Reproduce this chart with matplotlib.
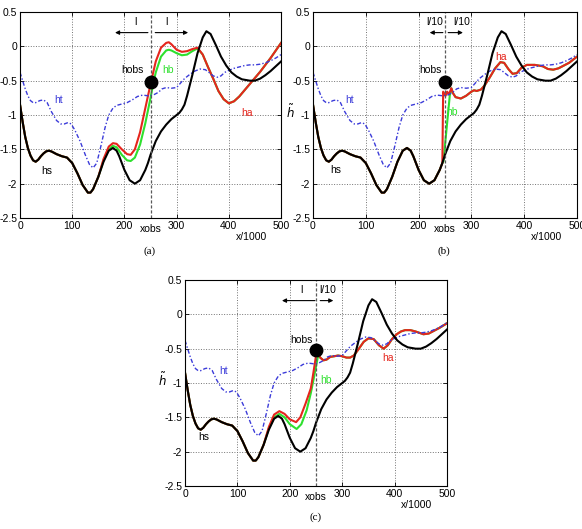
import matplotlib
matplotlib.use("Agg")
import matplotlib.pyplot as plt

plt.rcParams['font.family'] = ['Liberation Sans', 'DejaVu Sans']
plt.rcParams['axes.unicode_minus'] = False

# shared curves (x/1000, h~)
hs_x = [0, 5, 10, 15, 20, 25, 30, 35, 40, 45, 50, 55, 60, 70, 80, 90, 100, 110, 120, 130,
        135, 140, 150, 160, 170, 178, 185, 190, 200, 210, 220, 230, 240, 245, 250, 260, 270, 280, 290, 300,
        305, 310, 315, 320, 330, 340, 350, 357, 365, 375, 385, 395, 405, 415, 425, 440, 450, 460, 470, 480,
        490, 500]
hs_y = [-0.85, -1.10, -1.32, -1.48, -1.59, -1.66, -1.68, -1.65, -1.60, -1.56, -1.53, -1.52, -1.53, -1.57, -1.60, -1.62, -1.70, -1.85, -2.02, -2.13,
        -2.13, -2.08, -1.90, -1.68, -1.52, -1.48, -1.52, -1.60, -1.80, -1.95, -2.00, -1.95, -1.80, -1.70, -1.58, -1.38, -1.24, -1.14, -1.06, -1.00,
        -0.97, -0.92, -0.85, -0.72, -0.42, -0.10, 0.13, 0.22, 0.18, 0.02, -0.15, -0.28, -0.38, -0.44, -0.48, -0.50, -0.50, -0.47, -0.42, -0.36,
        -0.29, -0.22]

ht_x = [0, 5, 10, 15, 20, 25, 30, 38, 45, 52, 60, 70, 78, 85, 92, 98, 105, 115, 125, 133,
        140, 147, 155, 163, 170, 178, 185, 195, 205, 215, 225, 235, 245, 255, 265, 272, 280, 290, 300, 308,
        315, 325, 335, 345, 355, 362, 370, 378, 385, 392, 400, 410, 420, 430, 440, 450, 460, 470, 480, 490, 500]
ht_y = [-0.38, -0.50, -0.62, -0.72, -0.79, -0.82, -0.82, -0.79, -0.78, -0.82, -0.95, -1.08, -1.13, -1.13, -1.11, -1.13, -1.22, -1.38, -1.58, -1.72,
        -1.77, -1.70, -1.45, -1.18, -1.00, -0.90, -0.86, -0.84, -0.82, -0.78, -0.73, -0.71, -0.72, -0.71, -0.67, -0.62, -0.60, -0.61, -0.60, -0.53,
        -0.47, -0.41, -0.36, -0.33, -0.34, -0.38, -0.43, -0.45, -0.43, -0.38, -0.35, -0.32, -0.30, -0.28, -0.27, -0.27, -0.26, -0.24, -0.21, -0.17, -0.12]

x_obs = 250
h_obs = -0.52

# panel (a): only the part that leaves hs is listed
ha_a_x = [160, 170, 178, 185, 195, 205, 212, 220, 230, 240, 250, 260, 270, 280, 285, 290, 300, 310, 320, 330,
          340, 350, 360, 370, 380, 390, 400, 410, 420, 430, 440, 450, 460, 470, 480, 490, 500]
ha_a_y = [-1.64, -1.46, -1.41, -1.42, -1.50, -1.57, -1.58, -1.50, -1.25, -0.90, -0.55, -0.22, -0.02, 0.05, 0.06, 0.03, -0.05, -0.08, -0.07, -0.04,
          -0.02, -0.12, -0.30, -0.47, -0.65, -0.77, -0.83, -0.80, -0.73, -0.64, -0.55, -0.46, -0.37, -0.27, -0.17, -0.06, 0.05]
hb_a_x = [160, 170, 178, 185, 195, 205, 212, 220, 230, 240, 250, 255, 260, 270, 280, 285, 290, 300, 310, 320, 330, 340]
hb_a_y = [-1.66, -1.50, -1.45, -1.47, -1.58, -1.66, -1.67, -1.62, -1.43, -1.12, -0.75, -0.55, -0.38, -0.15, -0.06, -0.05, -0.06, -0.10, -0.13, -0.12, -0.07, -0.03]

# panel (b)
ha_b_x = [246.5, 249, 251, 254, 257, 260, 262, 265, 270, 280, 290, 300, 305, 310, 318, 325, 335, 345, 355, 362,
          370, 378, 386, 395, 405, 420, 435, 445, 455, 465, 475, 485, 500]
ha_b_y = [-0.66, -0.70, -0.72, -0.66, -0.70, -0.65, -0.61, -0.68, -0.74, -0.76, -0.72, -0.66, -0.64, -0.65, -0.63, -0.57, -0.45, -0.32, -0.23, -0.24,
          -0.33, -0.40, -0.39, -0.31, -0.27, -0.27, -0.29, -0.33, -0.34, -0.32, -0.28, -0.24, -0.15]
hb_b_x = [247, 259, 262]
hb_b_y = [-1.68, -0.72, -0.61]

# panel (c)
ha_c_x = [160, 170, 180, 190, 200, 212, 220, 230, 240, 245, 250, 254, 258, 264, 270, 277, 285, 292, 300, 308,
          315, 322, 330, 341, 350, 360, 370, 379, 387, 395, 404, 412, 420, 430, 440, 455, 465, 475, 485, 500]
ha_c_y = [-1.64, -1.46, -1.41, -1.45, -1.53, -1.57, -1.50, -1.30, -1.08, -0.85, -0.60, -0.58, -0.63, -0.67, -0.66, -0.62, -0.61, -0.60, -0.61, -0.63,
          -0.63, -0.60, -0.52, -0.40, -0.35, -0.36, -0.45, -0.50, -0.45, -0.36, -0.29, -0.25, -0.23, -0.23, -0.25, -0.29, -0.28, -0.24, -0.20, -0.13]
hb_c_x = [160, 170, 180, 190, 200, 213, 222, 232, 240, 245, 250, 254]
hb_c_y = [-1.66, -1.50, -1.45, -1.50, -1.60, -1.67, -1.60, -1.40, -1.15, -0.96, -0.76, -0.60]

x_ticks = [0, 100, 200, 300, 400, 500]
y_ticks = [0.5, 0, -0.5, -1, -1.5, -2, -2.5]
y_tick_labels = ['0.5', '0', '-0.5', '-1', '-1.5', '-2', '-2.5']

RED = '#e5251d'
GREEN = '#2ee02e'
BLUE = '#3b3bd9'
FS = 7.5


def splice(base_x, base_y, own_x, own_y):
    # base curve until own points start, then own points
    xs = [x for x in base_x if x < own_x[0]]
    ys = base_y[:len(xs)]
    return xs + list(own_x), ys + list(own_y)


def tail(base_x, base_y, after):
    xs = [x for x in base_x if x > after]
    return xs, base_y[len(base_x) - len(xs):]


def draw_panel(ax, ha, hb, arrows, labels, ylabel):
    ax.plot(*hb, color=GREEN, lw=1.5)
    ax.plot(*ha, color=RED, lw=1.5)
    ax.plot(ht_x, ht_y, color=BLUE, lw=1.0, ls=(0, (3, 1.5, 1, 1.5)))
    ax.plot(hs_x, hs_y, color='k', lw=1.5)
    ax.axvline(x_obs, color='0.35', lw=0.9, ls=(0, (2.5, 1.5)))
    ax.plot([x_obs], [h_obs], 'o', color='k', ms=9, zorder=5)

    for tail_x, head_x, text, tx in arrows:
        ax.annotate('', xy=(head_x, 0.2), xytext=(tail_x, 0.2),
                    arrowprops=dict(arrowstyle='-|>', lw=0.8, color='k', mutation_scale=6,
                                    shrinkA=0, shrinkB=0))
        ax.text(tx, 0.36, text, fontsize=FS, ha='center', va='center')

    for text, tx, ty, col in labels:
        ax.text(tx, ty, text, fontsize=FS, color=col, ha='center', va='center')

    ax.set_xlim(0, 500)
    ax.set_ylim(-2.5, 0.5)
    ax.set_xticks(x_ticks)
    ax.set_yticks(y_ticks)
    ax.set_yticklabels(y_tick_labels)
    ax.tick_params(direction='in', length=3, labelsize=FS, top=True, right=True, pad=2, width=0.6)
    ax.grid(True, color='0.45', ls=':', lw=0.7)
    for s in ax.spines.values():
        s.set_linewidth(0.8)

    ax.text(x_obs, -0.03, 'xobs', transform=ax.get_xaxis_transform(), fontsize=FS, ha='center', va='top')
    ax.text(0.885, -0.07, 'x/1000', transform=ax.transAxes, fontsize=FS, ha='center', va='top')
    if ylabel:
        ax.text(-0.085, 0.515, r'$\tilde{h}$', transform=ax.transAxes, fontsize=FS + 1, ha='center', va='center')


fig = plt.figure(figsize=(5.82, 5.29), dpi=100)
ax_a = fig.add_axes([0.0344, 0.5879, 0.4485, 0.3894])
ax_b = fig.add_axes([0.5378, 0.5879, 0.4536, 0.3894])
ax_c = fig.add_axes([0.3179, 0.0813, 0.4502, 0.3894])

ha_a = splice(hs_x, hs_y, ha_a_x, ha_a_y)
hb_a = splice(hs_x, hs_y, hb_a_x + tail(ha_a_x, ha_a_y, 340)[0], hb_a_y + tail(ha_a_x, ha_a_y, 340)[1])
draw_panel(ax_a, ha_a, hb_a,
           [(245, 182, 'l', 222), (259, 322, 'l', 280)],
           [('hobs', 215, -0.35, 'k'), ('hb', 284, -0.34, GREEN), ('ht', 73, -0.78, BLUE),
            ('hs', 51, -1.82, 'k'), ('ha', 434, -0.97, RED)],
           False)

ha_b = splice(hs_x, hs_y, ha_b_x, ha_b_y)
hb_b = splice(hs_x, hs_y, hb_b_x + tail(ha_b_x, ha_b_y, 262)[0], hb_b_y + tail(ha_b_x, ha_b_y, 262)[1])
draw_panel(ax_b, ha_b, hb_b,
           [(246, 221, 'l/10', 231), (256, 284, 'l/10', 282)],
           [('hobs', 222, -0.35, 'k'), ('hb', 264, -0.95, GREEN), ('ht', 70, -0.78, BLUE),
            ('hs', 44, -1.8, 'k'), ('ha', 357, -0.16, RED)],
           True)

ha_c = splice(hs_x, hs_y, ha_c_x, ha_c_y)
hb_c = splice(hs_x, hs_y, hb_c_x + tail(ha_c_x, ha_c_y, 254)[0], hb_c_y + tail(ha_c_x, ha_c_y, 254)[1])
draw_panel(ax_c, ha_c, hb_c,
           [(248, 185, 'l', 223), (258, 283, 'l/10', 272)],
           [('hobs', 222, -0.37, 'k'), ('hb', 269, -0.95, GREEN), ('ht', 74, -0.83, BLUE),
            ('hs', 36, -1.78, 'k'), ('ha', 387, -0.64, RED)],
           True)

for label, px, py in [('(a)', 150, 251), ('(b)', 444, 251), ('(c)', 316, 517)]:
    fig.text(px / 582, 1 - py / 529, label, fontsize=FS + 0.5, family='Liberation Serif', ha='center', va='center')

fig.savefig('out.png', dpi=100)
